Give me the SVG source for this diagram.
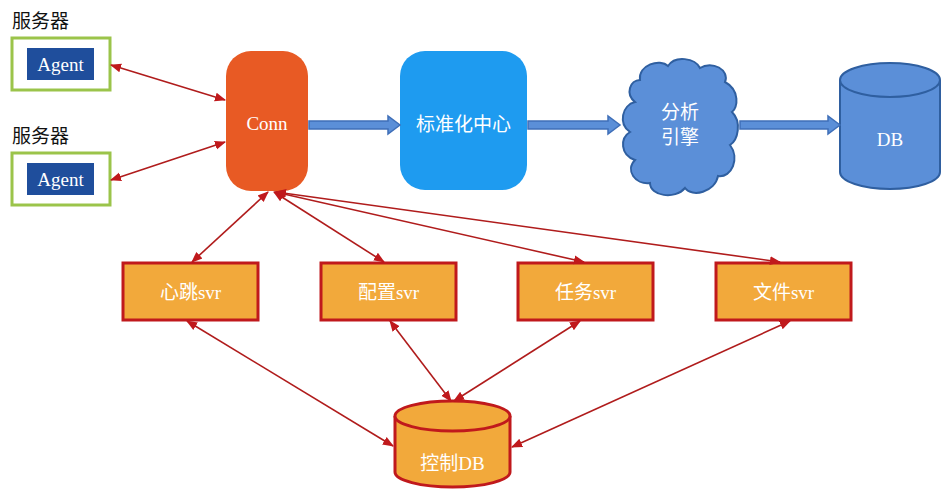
<svg xmlns="http://www.w3.org/2000/svg" width="951" height="500" viewBox="0 0 951 500">
<style>
.lbl{font-family:"Liberation Serif","Noto Sans CJK SC",serif;font-size:19px;fill:#fff;text-anchor:middle}
.cjk{font-family:"Noto Sans CJK SC",sans-serif;font-size:19px;fill:#fff;text-anchor:middle}
.svr{fill:#F2A93B;stroke:#C0191C;stroke-width:3}
.red{stroke:#B01C1C;stroke-width:1.6;fill:none;marker-start:url(#a);marker-end:url(#a)}
.big{fill:#5B8FD8;stroke:#3F6FB8;stroke-width:1.5}
</style>
<defs>
<marker id="a" viewBox="0 0 10 10" refX="9" refY="5" markerWidth="7" markerHeight="7" orient="auto-start-reverse"><path d="M0,1 L10,5 L0,9 z" fill="#C0191C"/></marker>
</defs>
<rect width="951" height="500" fill="#fff"/>
<g id="agent1">
<text x="12" y="28" font-family="Noto Sans CJK SC,sans-serif" font-size="19" fill="#111">服务器</text>
<rect x="12" y="38" width="98" height="52" fill="#fff" stroke="#9BC44A" stroke-width="3"/>
<rect x="27" y="48" width="67" height="32" fill="#1F4E9C"/>
<text x="60.5" y="71" class="lbl">Agent</text>
</g>
<g id="agent2">
<text x="12" y="143" font-family="Noto Sans CJK SC,sans-serif" font-size="19" fill="#111">服务器</text>
<rect x="12" y="153" width="98" height="52" fill="#fff" stroke="#9BC44A" stroke-width="3"/>
<rect x="27" y="163" width="67" height="32" fill="#1F4E9C"/>
<text x="60.5" y="186" class="lbl">Agent</text>
</g>
<g id="conn">
<rect x="226" y="51" width="82" height="140" rx="25" fill="#E85A24"/>
<text x="267" y="130" class="lbl">Conn</text>
</g>
<g id="std">
<rect x="400" y="51" width="127" height="139" rx="25" fill="#1E9BF0"/>
<text x="463.5" y="131" class="cjk">标准化中心</text>
</g>
<g id="engine">
<path d="M640,80 C638,65 660,58 668,66 C675,55 695,58 700,68 C712,60 730,70 725,82 C740,90 738,108 732,112 C742,122 738,140 730,145 C740,158 732,178 718,176 C715,192 692,198 685,188 C675,200 650,196 650,183 C635,185 625,170 635,160 C620,155 620,138 630,132 C618,124 622,105 635,102 C625,94 630,80 640,80 Z" fill="#5B8FD8" stroke="#2F5FA0" stroke-width="2"/>
<text x="680" y="119" class="cjk">分析</text>
<text x="680" y="144" class="cjk">引擎</text>
</g>
<g id="db">
<path d="M840,80 L840,172 A50,17 0 0 0 940,172 L940,80" fill="#5B8FD8" stroke="#2F5FA0" stroke-width="2"/>
<ellipse cx="890" cy="80" rx="50" ry="17" fill="#5B8FD8" stroke="#2F5FA0" stroke-width="2"/>
<text x="890" y="146" class="lbl">DB</text>
</g>
<g id="s1"><rect x="123" y="263" width="135" height="57" class="svr"/><text x="190.5" y="299" class="lbl">心跳svr</text></g>
<g id="s2"><rect x="321" y="263" width="135" height="57" class="svr"/><text x="388.5" y="299" class="lbl">配置svr</text></g>
<g id="s3"><rect x="518" y="263" width="135" height="57" class="svr"/><text x="585.5" y="299" class="lbl">任务svr</text></g>
<g id="s4"><rect x="716" y="263" width="135" height="57" class="svr"/><text x="783.5" y="299" class="lbl">文件svr</text></g>
<g id="ctrldb">
<path d="M395,416 L395,472 A57.5,15 0 0 0 510,472 L510,416" fill="#F2A93B" stroke="#C0191C" stroke-width="3"/>
<ellipse cx="452.5" cy="416" rx="57.5" ry="15" fill="#F2A93B" stroke="#C0191C" stroke-width="3"/>
<text x="452.5" y="470" class="lbl">控制DB</text>
</g>
<g id="connectors">
<path class="big" d="M309,121 L388,121 L388,116 L400,125 L388,134 L388,129 L309,129 Z"/>
<path class="big" d="M528,121 L608,121 L608,116 L620,125 L608,134 L608,129 L528,129 Z"/>
<path class="big" d="M740,121 L828,121 L828,116 L840,125 L828,134 L828,129 L740,129 Z"/>
<line class="red" x1="111" y1="65" x2="225" y2="100"/>
<line class="red" x1="111" y1="180" x2="225" y2="142"/>
<line class="red" x1="192" y1="262" x2="268" y2="192"/>
<line class="red" x1="384" y1="262" x2="274" y2="192"/>
<line class="red" x1="584" y1="262" x2="275" y2="192"/>
<line class="red" x1="780" y1="262" x2="276" y2="192"/>
<line class="red" x1="187" y1="321" x2="393" y2="446"/>
<line class="red" x1="390" y1="321" x2="451" y2="401"/>
<line class="red" x1="580" y1="321" x2="454" y2="401"/>
<line class="red" x1="790" y1="321" x2="512" y2="447"/>
</g>
</svg>
